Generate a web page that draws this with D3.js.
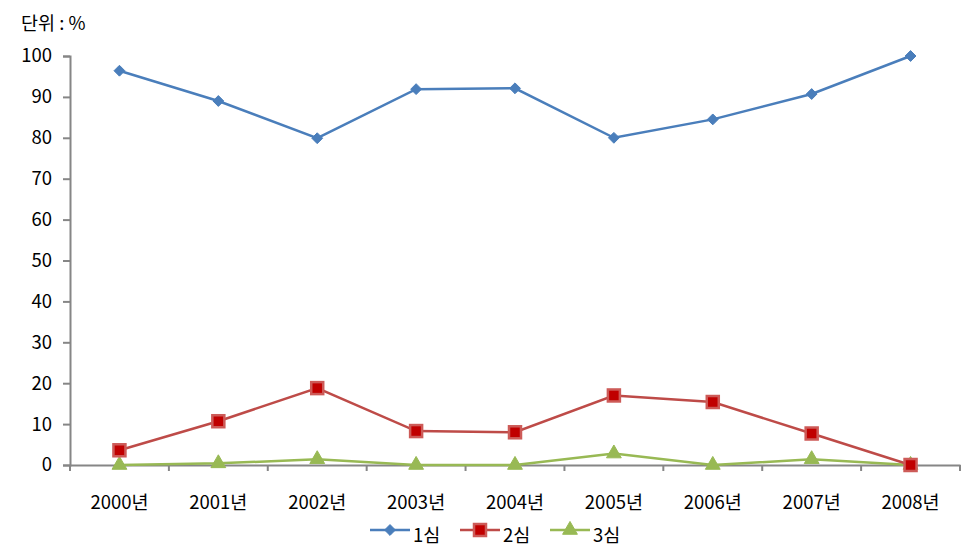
<!DOCTYPE html>
<html><head><meta charset="utf-8">
<script src="https://cdn.jsdelivr.net/npm/d3@7"></script>
<style>body{margin:0;background:#fff}svg{display:block}</style>
</head><body><svg id="c" width="973" height="555"></svg>
<script>
const categories = ["2000년","2001년","2002년","2003년","2004년","2005년","2006년","2007년","2008년"];
const seriesNames = ["1심","2심","3심"];
const s1 = [96.4, 89.0, 79.9, 91.9, 92.1, 80.0, 84.5, 90.7, 100.0];
const s2 = [3.6, 10.7, 18.8, 8.3, 8.0, 17.0, 15.4, 7.7, 0.0];
const s3 = [0.0, 0.4, 1.4, 0.0, 0.0, 2.8, 0.0, 1.4, 0.0];
const yTicks = [0,10,20,30,40,50,60,70,80,90,100];
const unitLabel = "단위 : %";

const svg = d3.select("#c");
const font = "'Noto Sans CJK KR','Malgun Gothic',sans-serif";
const fs = 18.5;
const L = 70, R = 960, T = 56, B = 465;
const x = d3.scaleBand().domain(categories).range([L, R]);
const y = d3.scaleLinear().domain([0,100]).range([B, T]);
const axisColor = "#868686";

// y axis
const ya = svg.append("g").attr("transform", `translate(${L},0)`)
  .call(d3.axisLeft(y).tickValues(yTicks).tickSize(7).tickPadding(11));
ya.select(".domain").attr("stroke", axisColor).attr("stroke-width", 2);
ya.selectAll(".tick line").attr("stroke", axisColor).attr("stroke-width", 2);
ya.selectAll(".tick text").attr("font-family", font).attr("font-size", fs).attr("fill", "#000");

// x axis
const xa = svg.append("g").attr("transform", `translate(0,${B})`)
  .call(d3.axisBottom(x).tickSize(0).tickPadding(31));
xa.select(".domain").attr("stroke", axisColor).attr("stroke-width", 2);
xa.selectAll(".tick text").attr("font-family", font).attr("font-size", fs).attr("fill", "#000");
// boundary ticks
const bounds = categories.map(c => x(c)).concat([R]);
svg.append("g").selectAll("line").data(bounds).join("line")
  .attr("x1", d => d).attr("x2", d => d).attr("y1", B).attr("y2", B + 6)
  .attr("stroke", axisColor).attr("stroke-width", 2);

svg.append("text").attr("x", 21).attr("y", 30).attr("font-family", font)
  .attr("font-size", fs).attr("fill", "#000").text(unitLabel);

const cx = c => x(c) + x.bandwidth() / 2;
const line = d3.line().x((d, i) => cx(categories[i])).y(d => y(d));

const colors = ["#4a7ebb", "#be4b48", "#98b954"];
const data = [s1, s2, s3];

function marker(g, type, px, py) {
  if (type === 0) {
    g.append("path").attr("d", d3.symbol(d3.symbolDiamond2, 75)())
      .attr("transform", `translate(${px},${py})`).attr("fill", colors[0]).attr("stroke", colors[0]);
  } else if (type === 1) {
    g.append("rect").attr("x", px - 6).attr("y", py - 6).attr("width", 12).attr("height", 12)
      .attr("fill", "#c00000").attr("stroke", "#cd5b58").attr("stroke-width", 2.5);
  } else {
    g.append("path").attr("d", d3.symbol(d3.symbolTriangle, 95)())
      .attr("transform", `translate(${px},${py})`).attr("fill", colors[2]).attr("stroke", colors[2]);
  }
}

[2,1,0].forEach(si => {
  const g = svg.append("g");
  g.append("path").datum(data[si]).attr("d", line).attr("fill", "none")
    .attr("stroke", colors[si]).attr("stroke-width", 2.5);
  data[si].forEach((v, i) => marker(g, si, cx(categories[i]), y(v)));
});

// legend
const legX = [370, 460, 550];
seriesNames.forEach((n, i) => {
  const g = svg.append("g");
  const ly = 530;
  g.append("line").attr("x1", legX[i]).attr("x2", legX[i] + 40).attr("y1", ly).attr("y2", ly)
    .attr("stroke", colors[i]).attr("stroke-width", 2.5);
  marker(g, i, legX[i] + 20, ly);
  g.append("text").attr("x", legX[i] + 43).attr("y", ly + 12).attr("font-family", font)
    .attr("font-size", fs).attr("fill", "#000").text(n);
});
</script></body></html>
